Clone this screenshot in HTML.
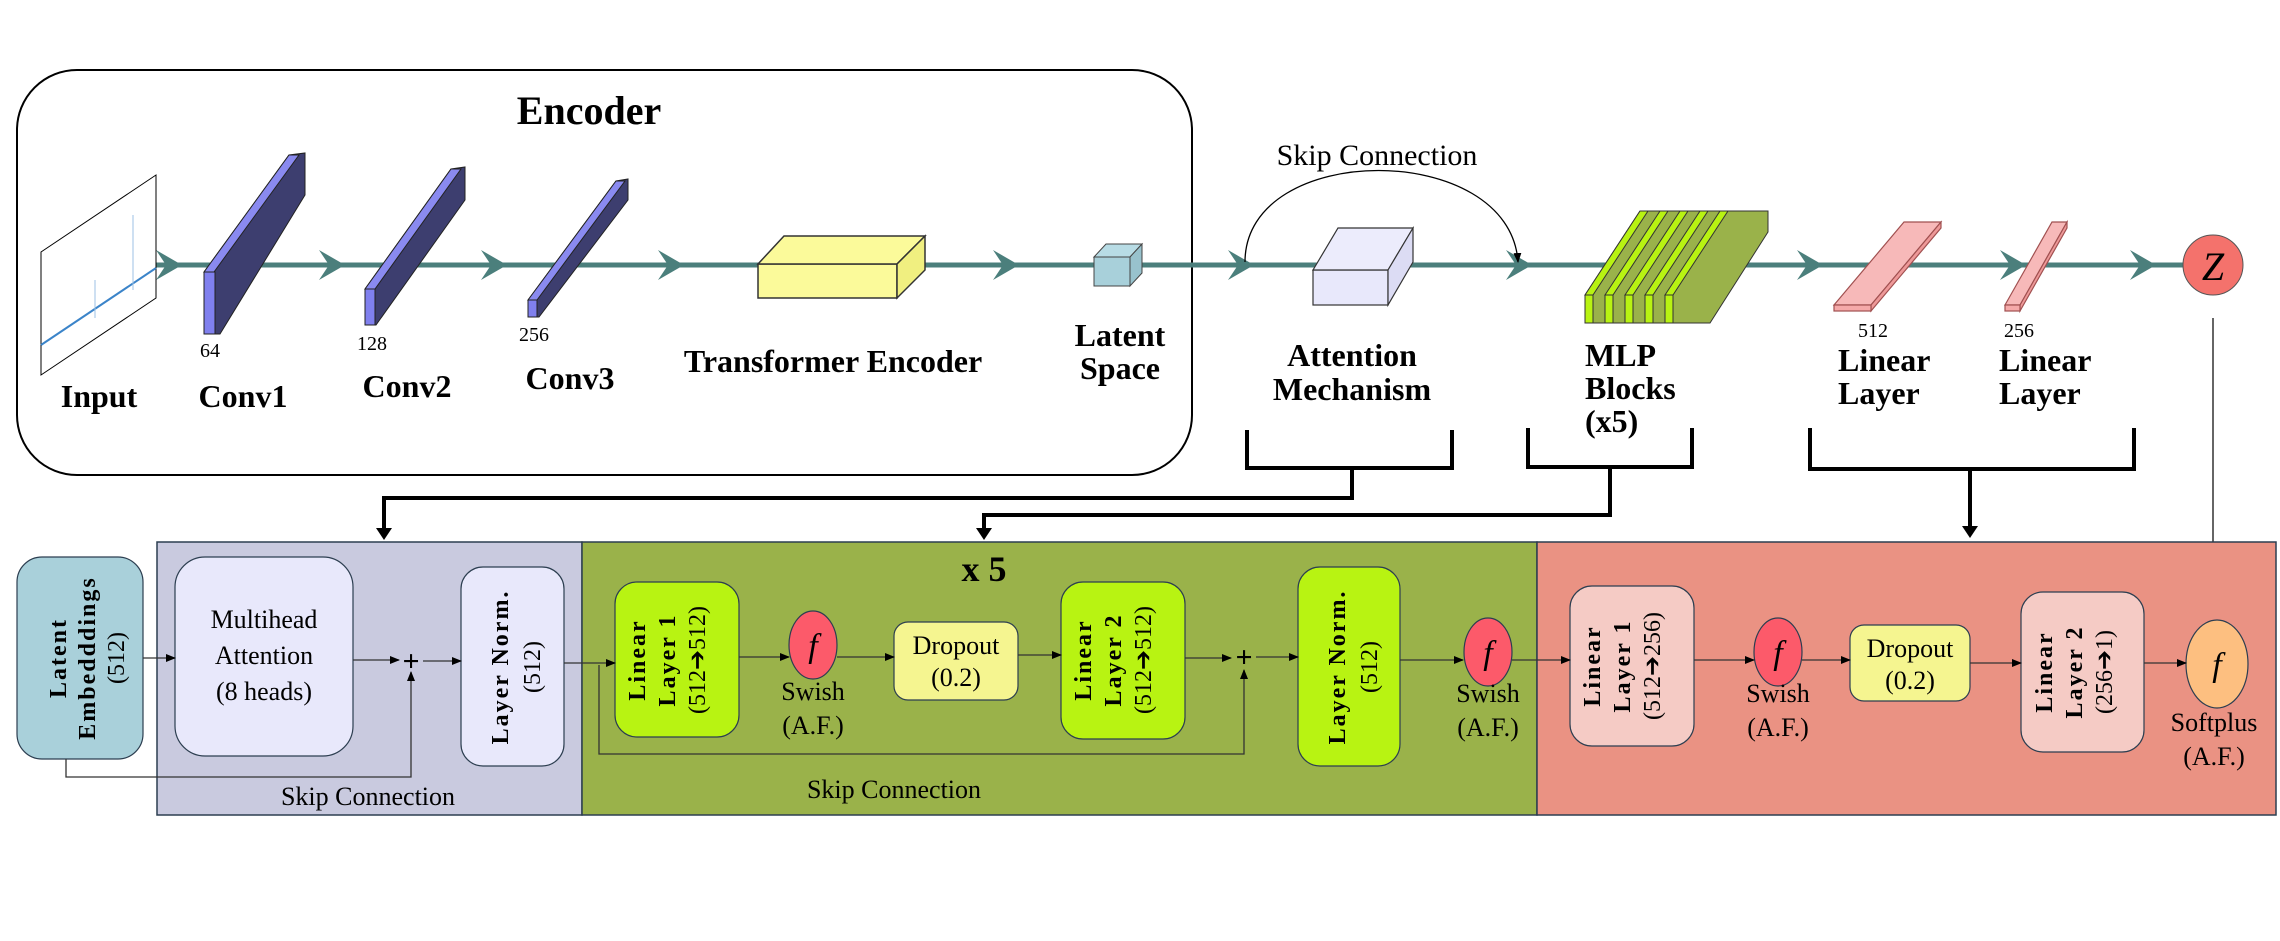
<!DOCTYPE html>
<html><head><meta charset="utf-8"><style>
html,body{margin:0;padding:0;background:#fff;}
svg{display:block;font-family:"Liberation Serif",serif;}
</style></head><body>
<svg width="2280" height="941" viewBox="0 0 2280 941" xmlns="http://www.w3.org/2000/svg">
<defs>
<marker id="ah" markerWidth="10" markerHeight="10" refX="9" refY="5" orient="auto" markerUnits="userSpaceOnUse"><path d="M0,1 L10,5 L0,9 z" fill="#000"/></marker>
</defs>
<rect x="17" y="70" width="1175" height="405" rx="60" fill="none" stroke="#000" stroke-width="2"/>
<text x="589" y="124" font-size="40" font-weight="bold" text-anchor="middle">Encoder</text>
<line x1="99" y1="265" x2="2184" y2="265" stroke="#4b7f7c" stroke-width="5"/>
<g fill="#4b7f7c">
<path d="M156,250 L182,265 L156,280 L166,265z"/>
<path d="M319,250 L345,265 L319,280 L329,265z"/>
<path d="M481,250 L507,265 L481,280 L491,265z"/>
<path d="M658,250 L684,265 L658,280 L668,265z"/>
<path d="M993,250 L1019,265 L993,280 L1003,265z"/>
<path d="M1228,250 L1254,265 L1228,280 L1238,265z"/>
<path d="M1506,250 L1532,265 L1506,280 L1516,265z"/>
<path d="M1797,250 L1823,265 L1797,280 L1807,265z"/>
<path d="M2000,250 L2026,265 L2000,280 L2010,265z"/>
<path d="M2130,250 L2156,265 L2130,280 L2140,265z"/>
</g>
<polygon points="41,252 156,175 156,298 41,375" fill="#fff" stroke="#000" stroke-width="1"/>
<line x1="41" y1="345" x2="156" y2="268" stroke="#3b84c9" stroke-width="2"/>
<line x1="133" y1="215" x2="133" y2="290" stroke="#9cc2e6" stroke-width="1"/>
<line x1="95" y1="280" x2="95" y2="318" stroke="#9cc2e6" stroke-width="1"/>
<g stroke="#222" stroke-width="1">
<polygon points="204,272 289,155 305,153 305,195 220,334 204,334" fill="#3d3e6f"/>
<polygon points="204,272 289,155 299,155 214,272" fill="#8a8af0"/>
<rect x="204" y="272" width="11" height="62" fill="#8080ee"/>
<polygon points="365,289 451,169 465,167 465,200 376,325 365,325" fill="#3d3e6f"/>
<polygon points="365,289 451,169 461,169 375,289" fill="#8a8af0"/>
<rect x="365" y="289" width="10" height="36" fill="#8080ee"/>
<polygon points="528,300 616,181 628,179 628,200 539,317 528,317" fill="#3d3e6f"/>
<polygon points="528,300 616,181 625,181 537,300" fill="#8a8af0"/>
<rect x="528" y="300" width="9" height="17" fill="#8080ee"/>
</g>
<text x="200" y="357" font-size="20">64</text>
<text x="357" y="350" font-size="20">128</text>
<text x="519" y="341" font-size="20">256</text>
<g font-size="32" font-weight="bold" text-anchor="middle">
<text x="99" y="407">Input</text>
<text x="243" y="407">Conv1</text>
<text x="407" y="397">Conv2</text>
<text x="570" y="389">Conv3</text>
<text x="833" y="372">Transformer Encoder</text>
<text x="1120" y="346">Latent</text>
<text x="1120" y="379">Space</text>
</g>
<g stroke="#333" stroke-width="1.5">
<polygon points="758,264 897,264 897,298 758,298" fill="#fbfa9a"/>
<polygon points="758,264 784,236 925,236 897,264" fill="#fbfa9a"/>
<polygon points="897,264 925,236 925,270 897,298" fill="#f0ef80"/>
</g>
<g stroke="#444" stroke-width="1">
<rect x="1094" y="257" width="36" height="29" fill="#a8d0da"/>
<polygon points="1094,257 1106,244 1142,244 1130,257" fill="#b8dce5"/>
<polygon points="1130,257 1142,244 1142,273 1130,286" fill="#98c2cd"/>
</g>
<text x="1377" y="165" font-size="30" text-anchor="middle">Skip Connection</text>
<path d="M1245,262 C1245,140 1510,140 1518,262" fill="none" stroke="#000" stroke-width="1.3" marker-end="url(#ah)"/>
<g stroke="#333" stroke-width="1.2">
<rect x="1313" y="270" width="75" height="35" fill="#e8e8fb"/>
<polygon points="1313,270 1338,228 1413,228 1388,270" fill="#ececfc"/>
<polygon points="1388,270 1413,228 1413,262 1388,305" fill="#dcdcf4"/>
</g>
<g stroke="#333" stroke-width="1">
<polygon points="1585,295 1640,211 1768,211 1768,232 1710,323 1585,323" fill="#9ab24a"/>
<polygon points="1585,295 1640,211 1648,211 1593,295" fill="#b8f312"/>
<rect x="1585" y="295" width="8" height="28" fill="#b8f312"/>
<polygon points="1605,295 1660,211 1668,211 1613,295" fill="#b8f312"/>
<rect x="1605" y="295" width="8" height="28" fill="#b8f312"/>
<polygon points="1625,295 1680,211 1688,211 1633,295" fill="#b8f312"/>
<rect x="1625" y="295" width="8" height="28" fill="#b8f312"/>
<polygon points="1645,295 1700,211 1708,211 1653,295" fill="#b8f312"/>
<rect x="1645" y="295" width="8" height="28" fill="#b8f312"/>
<polygon points="1665,295 1720,211 1728,211 1673,295" fill="#b8f312"/>
<rect x="1665" y="295" width="8" height="28" fill="#b8f312"/>
</g>
<g stroke="#a05050" stroke-width="1.2">
<polygon points="1834,305 1904,222 1941,222 1871,305" fill="#f7b9b9"/>
<polygon points="1941,222 1941,228 1871,311 1871,305" fill="#e99"/>
<rect x="1834" y="305" width="37" height="6" fill="#f5a9a9"/>
<polygon points="2005,305 2052,222 2067,222 2020,305" fill="#f7b9b9"/>
<polygon points="2067,222 2067,228 2020,311 2020,305" fill="#e99"/>
<rect x="2005" y="305" width="15" height="6" fill="#f5a9a9"/>
</g>
<text x="1858" y="337" font-size="20">512</text>
<text x="2004" y="337" font-size="20">256</text>
<circle cx="2213" cy="265" r="30" fill="#f4726c" stroke="#555" stroke-width="1"/>
<text x="2213" y="280" font-size="40" font-style="italic" text-anchor="middle">Z</text>
<g font-size="32" font-weight="bold">
<text x="1352" y="366" text-anchor="middle">Attention</text>
<text x="1352" y="400" text-anchor="middle">Mechanism</text>
<text x="1585" y="366">MLP</text>
<text x="1585" y="399">Blocks</text>
<text x="1585" y="432">(x5)</text>
<text x="1838" y="371">Linear</text>
<text x="1838" y="404">Layer</text>
<text x="1999" y="371">Linear</text>
<text x="1999" y="404">Layer</text>
</g>
<g fill="none" stroke="#000" stroke-width="4">
<path d="M1247,430 V468 H1452 V430"/>
<path d="M1352,468 V498 H384 V530" />
<path d="M1528,428 V467 H1692 V428"/>
<path d="M1610,467 V515 H984 V530"/>
<path d="M1810,428 V469 H2134 V428"/>
<path d="M1970,469 V528"/>
</g>
<path d="M376,528 L384,540 L392,528z"/><path d="M976,528 L984,540 L992,528z"/><path d="M1962,526 L1970,538 L1978,526z"/>
<line x1="2213" y1="700" x2="2213" y2="318" stroke="#000" stroke-width="1.2"/>
<rect x="157" y="542" width="425" height="273" fill="#c9cadf" stroke="#2c3e50" stroke-width="1.5"/>
<rect x="582" y="542" width="955" height="273" fill="#9ab24a" stroke="#2c3e50" stroke-width="1.5"/>
<rect x="1537" y="542" width="739" height="273" fill="#ea9283" stroke="#2c3e50" stroke-width="1.5"/>
<g stroke="#2c3e50" stroke-width="1.2">
<rect x="17" y="557" width="126" height="202" rx="25" fill="#a9d0da"/>
<rect x="175" y="557" width="178" height="199" rx="30" fill="#e8e8fb"/>
<rect x="461" y="567" width="103" height="199" rx="22" fill="#e8e8fb"/>
<rect x="615" y="582" width="124" height="155" rx="22" fill="#b8f312"/>
<rect x="894" y="622" width="124" height="78" rx="14" fill="#f5f590"/>
<rect x="1061" y="582" width="124" height="157" rx="22" fill="#b8f312"/>
<rect x="1298" y="567" width="102" height="199" rx="22" fill="#b8f312"/>
<rect x="1570" y="586" width="124" height="160" rx="22" fill="#f5cbc5"/>
<rect x="1850" y="625" width="120" height="76" rx="14" fill="#f5f590"/>
<rect x="2021" y="592" width="123" height="160" rx="22" fill="#f5cbc5"/>
<ellipse cx="813" cy="645" rx="24" ry="34" fill="#fc5a6a"/>
<ellipse cx="1488" cy="652" rx="24" ry="34" fill="#fc5a6a"/>
<ellipse cx="1778" cy="652" rx="24" ry="34" fill="#fc5a6a"/>
<ellipse cx="2217" cy="664" rx="31" ry="44" fill="#fdbf80"/>
</g>
<g font-size="34" font-style="italic" text-anchor="middle">
<text x="813" y="657">f</text><text x="1488" y="664">f</text><text x="1778" y="664">f</text><text x="2217" y="676">f</text>
</g>
<g font-size="24" text-anchor="middle">
<text transform="translate(66,658) rotate(-90)" font-weight="bold" letter-spacing="2">Latent</text>
<text transform="translate(95,658) rotate(-90)" font-weight="bold" letter-spacing="2">Embedddings</text>
<text transform="translate(124,658) rotate(-90)">(512)</text>
<text transform="translate(508,667) rotate(-90)" font-weight="bold" letter-spacing="2">Layer Norm.</text>
<text transform="translate(540,667) rotate(-90)">(512)</text>
<text transform="translate(645,660) rotate(-90)" font-weight="bold" letter-spacing="2">Linear</text>
<text transform="translate(675,660) rotate(-90)" font-weight="bold" letter-spacing="2">Layer 1</text>
<text transform="translate(705,660) rotate(-90)">(512➔512)</text>
<text transform="translate(1091,660) rotate(-90)" font-weight="bold" letter-spacing="2">Linear</text>
<text transform="translate(1121,660) rotate(-90)" font-weight="bold" letter-spacing="2">Layer 2</text>
<text transform="translate(1151,660) rotate(-90)">(512➔512)</text>
<text transform="translate(1345,667) rotate(-90)" font-weight="bold" letter-spacing="2">Layer Norm.</text>
<text transform="translate(1377,667) rotate(-90)">(512)</text>
<text transform="translate(1600,666) rotate(-90)" font-weight="bold" letter-spacing="2">Linear</text>
<text transform="translate(1630,666) rotate(-90)" font-weight="bold" letter-spacing="2">Layer 1</text>
<text transform="translate(1660,666) rotate(-90)">(512➔256)</text>
<text transform="translate(2052,672) rotate(-90)" font-weight="bold" letter-spacing="2">Linear</text>
<text transform="translate(2082,672) rotate(-90)" font-weight="bold" letter-spacing="2">Layer 2</text>
<text transform="translate(2112,672) rotate(-90)">(256➔1)</text>
</g>
<g font-size="26" text-anchor="middle">
<text x="264" y="628">Multihead</text>
<text x="264" y="664">Attention</text>
<text x="264" y="700">(8 heads)</text>
<text x="956" y="654">Dropout</text>
<text x="956" y="686">(0.2)</text>
<text x="1910" y="657">Dropout</text>
<text x="1910" y="689">(0.2)</text>
<text x="813" y="700">Swish</text>
<text x="813" y="734">(A.F.)</text>
<text x="1488" y="702">Swish</text>
<text x="1488" y="736">(A.F.)</text>
<text x="1778" y="702">Swish</text>
<text x="1778" y="736">(A.F.)</text>
<text x="2214" y="731">Softplus</text>
<text x="2214" y="765">(A.F.)</text>
<text x="368" y="805">Skip Connection</text>
<text x="894" y="798">Skip Connection</text>
</g>
<text x="984" y="581" font-size="36" font-weight="bold" text-anchor="middle">x 5</text>
<g fill="none" stroke="#333" stroke-width="1.3">
<line x1="143" y1="658" x2="175" y2="658" marker-end="url(#ah)"/>
<line x1="353" y1="660" x2="399" y2="660" marker-end="url(#ah)"/>
<line x1="423" y1="661" x2="461" y2="661" marker-end="url(#ah)"/>
<line x1="564" y1="663" x2="615" y2="663" marker-end="url(#ah)"/>
<line x1="739" y1="657" x2="789" y2="657" marker-end="url(#ah)"/>
<line x1="837" y1="657" x2="894" y2="657" marker-end="url(#ah)"/>
<line x1="1018" y1="655" x2="1061" y2="655" marker-end="url(#ah)"/>
<line x1="1185" y1="658" x2="1231" y2="658" marker-end="url(#ah)"/>
<line x1="1256" y1="657" x2="1298" y2="657" marker-end="url(#ah)"/>
<line x1="1400" y1="660" x2="1463" y2="660" marker-end="url(#ah)"/>
<line x1="1512" y1="660" x2="1570" y2="660" marker-end="url(#ah)"/>
<line x1="1694" y1="660" x2="1754" y2="660" marker-end="url(#ah)"/>
<line x1="1802" y1="660" x2="1850" y2="660" marker-end="url(#ah)"/>
<line x1="1970" y1="663" x2="2021" y2="663" marker-end="url(#ah)"/>
<line x1="2144" y1="663" x2="2186" y2="663" marker-end="url(#ah)"/>
<path d="M66,759 V777 H411 V672" marker-end="url(#ah)"/>
<path d="M599,665 V754 H1244 V670" marker-end="url(#ah)"/>
</g>
<g font-size="30" font-weight="bold" text-anchor="middle">
<text x="411" y="671">+</text><text x="1244" y="667">+</text>
</g>
</svg>
</body></html>
